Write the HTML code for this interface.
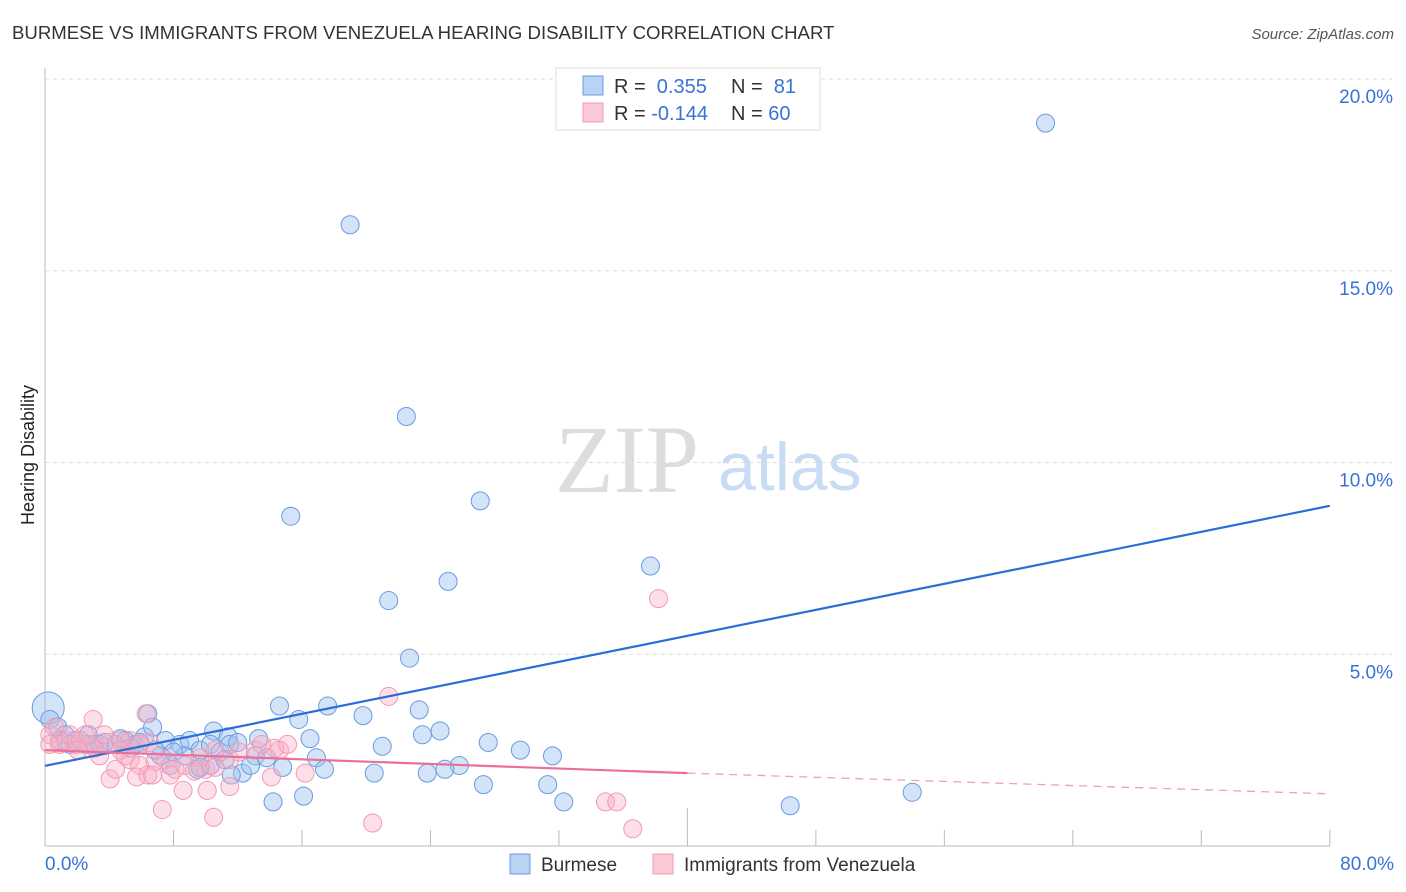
<!DOCTYPE html>
<html><head><meta charset="utf-8"><style>
body{margin:0;background:#fff;font-family:"Liberation Sans",sans-serif}
svg{display:block}
</style></head><body>
<svg id="chart" width="1406" height="892">
<text x="12" y="39" font-size="18.6" fill="#333">BURMESE VS IMMIGRANTS FROM VENEZUELA HEARING DISABILITY CORRELATION CHART</text>
<text x="1394" y="39" font-size="15" fill="#555" font-style="italic" text-anchor="end">Source: ZipAtlas.com</text>
<g>
<text x="555" y="492" font-size="96" font-family="Liberation Serif,serif" fill="#ddd">ZIP</text>
<text x="718" y="490" font-size="68" fill="#c9dcf3">atlas</text>
</g>
<g id="grid"></g>
<line x1="45" y1="68" x2="45" y2="846" stroke="#bbb"/>
<line x1="45" y1="846" x2="1330" y2="846" stroke="#bbb"/>
<g id="ticks"></g>
<text transform="translate(34,455) rotate(-90)" font-size="18" fill="#222" text-anchor="middle">Hearing Disability</text>
<text x="45" y="870" font-size="19" fill="#3a72d8">0.0%</text>
<text x="1394" y="870" font-size="19" fill="#3a72d8" text-anchor="end">80.0%</text>
<g id="pts"></g>
<g id="trends"></g>
<g>
<rect x="556" y="68" width="264" height="62" fill="#fff" stroke="#ddd"/>
<rect x="583" y="76" width="20" height="19" fill="#b9d3f5" stroke="#6a9be0"/>
<rect x="583" y="103" width="20" height="19" fill="#fbc8d6" stroke="#f09ab4"/>
<text x="614" y="93" font-size="20" fill="#333">R = <tspan fill="#3a72d8">&#160;0.355</tspan><tspan x="731">N = </tspan><tspan fill="#3a72d8">&#160;81</tspan></text>
<text x="614" y="120" font-size="20" fill="#333">R = <tspan fill="#3a72d8">-0.144</tspan><tspan x="731">N = </tspan><tspan fill="#3a72d8">60</tspan></text>
</g>
<g>
<rect x="510" y="854" width="20" height="20" fill="#b9d3f5" stroke="#6a9be0"/>
<text x="541" y="871" font-size="19" fill="#333">Burmese</text>
<rect x="653" y="854" width="20" height="20" fill="#fbc8d6" stroke="#f09ab4"/>
<text x="684" y="871" font-size="19" fill="#333">Immigrants from Venezuela</text>
</g>
</svg>
<script>
const yTicks=[5,10,15,20];
const yTickLabels=["5.0%","10.0%","15.0%","20.0%"];
const xTicks=[0,8,16,24,32,40,48,56,64,72,80];
const burmeseX=[62.3,19.0,22.5,15.3,27.1,25.1,21.4,37.7,22.7,14.6,17.6,19.8,23.3,15.8,10.5,24.6,23.5,27.6,29.6,31.6,21.0,16.5,13.3,11.4,13.1,13.8,14.8,16.9,17.4,25.8,24.9,23.8,20.5,27.3,31.3,12.3,11.6,14.2,16.1,32.3,46.4,54.0,0.2,0.3,0.8,1.25,1.9,2.5,3.1,3.7,4.4,5.0,5.6,6.2,6.4,6.7,7.5,8.4,9.0,9.65,10.3,10.9,11.5,12.0,7.8,8.7,9.5,10.3,7.2,4.7,3.4,2.7,0.9,1.55,5.3,5.9,6.85,8.0,11.2,12.8,9.65];
const burmeseY=[18.85,16.2,11.2,8.6,9.0,6.9,6.4,7.3,4.9,3.65,3.65,3.4,3.55,3.3,3.0,3.0,2.9,2.7,2.5,2.35,2.6,2.8,2.8,2.85,2.35,2.3,2.05,2.3,2.0,2.1,2.0,1.9,1.9,1.6,1.6,1.9,1.85,1.15,1.3,1.15,1.05,1.4,3.6,3.3,3.1,2.9,2.75,2.65,2.65,2.7,2.65,2.75,2.65,2.85,3.45,3.1,2.75,2.65,2.75,2.5,2.65,2.45,2.65,2.7,2.1,2.35,2.0,2.1,2.35,2.8,2.65,2.9,2.75,2.65,2.55,2.7,2.5,2.45,2.25,2.1,2.05];
const venX=[38.2,21.4,6.3,3.0,0.3,0.6,1.25,1.9,2.5,3.1,4.05,4.7,5.3,5.9,6.5,5.0,5.3,5.9,6.85,7.5,8.1,8.7,9.65,10.0,10.6,4.05,5.7,6.4,6.7,8.6,10.1,11.5,14.1,16.2,7.3,10.5,20.4,34.9,35.6,36.6,14.6,14.3,15.1,4.4,3.4,0.9,1.55,2.2,2.8,3.7,11.5,12.1,4.7,7.8,9.3,13.1,13.5,0.3,2.05,10.6];
const venY=[6.45,3.9,3.45,3.3,2.9,3.1,2.75,2.65,2.9,2.55,2.7,2.75,2.75,2.65,2.7,2.35,2.25,2.1,2.2,2.25,2.0,2.1,2.3,2.0,2.05,1.75,1.8,1.85,1.85,1.45,1.45,1.55,1.8,1.9,0.95,0.75,0.6,1.15,1.15,0.45,2.5,2.55,2.65,2.0,2.35,2.65,2.9,2.75,2.65,2.9,2.25,2.45,2.5,1.85,1.95,2.5,2.65,2.65,2.5,2.5];
const burmeseTrend=[2.09,8.87];
const venTrend=[2.50,1.90,1.36];
const NS="http://www.w3.org/2000/svg";
const sx=v=>45+v*16.06, sy=v=>846-v*38.35;
function mk(t,a,p){const e=document.createElementNS(NS,t);for(const k in a)e.setAttribute(k,a[k]);p.appendChild(e);return e;}
const grid=document.getElementById('grid');
yTicks.forEach((v,i)=>{
 const l=mk('line',{x1:45,x2:1392,y1:sy(v),y2:sy(v),stroke:'#ddd','stroke-dasharray':'4,4'},grid);
 
 
 const t=mk('text',{x:1393,y:sy(v)+24,'font-size':19,fill:'#3a72d8','text-anchor':'end'},grid);
 t.textContent=yTickLabels[i];
 
 
});
const tk=document.getElementById('ticks');
xTicks.forEach(v=>{
 const l=mk('line',{x1:sx(v),x2:sx(v),y1:v===40?808:830,y2:846,stroke:'#bbb'},tk);
 
 
});
const pts=document.getElementById('pts');
burmeseX.forEach((x,i)=>{
 const c=mk('circle',{cx:sx(x),cy:sy(burmeseY[i]),r:i===42?16:9,fill:'rgba(160,195,240,0.45)',stroke:'#6a9be0','stroke-width':1},pts);
 
 
});
venX.forEach((x,i)=>{
 const c=mk('circle',{cx:sx(x),cy:sy(venY[i]),r:9,fill:'rgba(248,175,198,0.4)',stroke:'#f29ab6','stroke-width':1},pts);
 
 
});
const tr=document.getElementById('trends');
let l1=mk('line',{x1:sx(0),y1:sy(burmeseTrend[0]),x2:sx(80),y2:sy(burmeseTrend[1]),stroke:'#2a6dd6','stroke-width':2.2},tr);


let l2=mk('line',{x1:sx(0),y1:sy(venTrend[0]),x2:sx(40),y2:sy(venTrend[1]),stroke:'#e8709a','stroke-width':2.2},tr);


let l3=mk('line',{x1:sx(40),y1:sy(venTrend[1]),x2:sx(80),y2:sy(venTrend[2]),stroke:'#eea0b8','stroke-width':1.3,'stroke-dasharray':'8,6'},tr);


</script>
</body></html>
